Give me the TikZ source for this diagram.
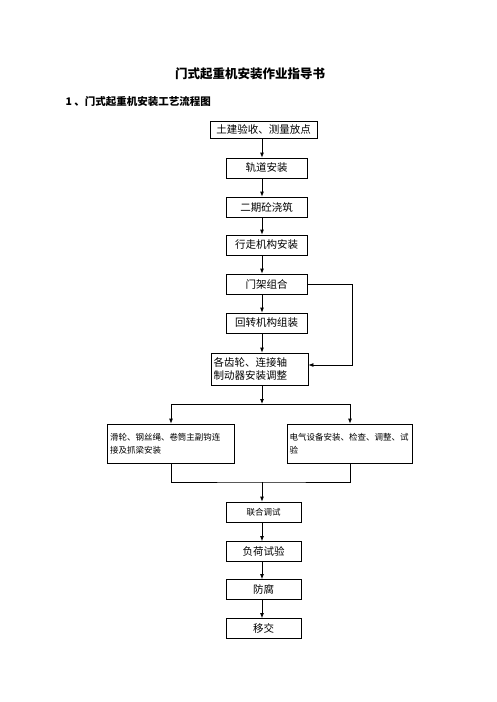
\documentclass[tikz,border=0pt]{standalone}
\usepackage{fontspec}
\setmainfont{Noto Sans CJK SC}
\usetikzlibrary{arrows.meta, positioning, calc}

\begin{document}
\begin{tikzpicture}[x=1pt, y=-1pt,
  box/.style={draw, line width=0.8pt, minimum width=81pt, minimum height=20pt, inner sep=2pt, font=\fontsize{10.5}{13}\selectfont},
  smallbox/.style={box, font=\fontsize{8.5}{13}\selectfont},
  arrow/.style={-{Latex[length=5pt, width=4pt]}, line width=0.8pt},
  line/.style={line width=0.8pt}
]
  \useasboundingbox (0,0) rectangle (496,702);

  \node[font=\fontsize{12.5}{15}\selectfont\bfseries] (title) at (250, 74) {门式起重机安装作业指导书};
  \node[anchor=west, font=\fontsize{10.5}{13}\selectfont\bfseries] (head) at (62, 102) {1 、门式起重机安装工艺流程图};

  \node[box, minimum width=107pt, minimum height=17pt] (b1) at (263.5, 129.5) {土建验收、测量放点};
  \node[box] (b2) at (266.5, 168) {轨道安装};
  \node[box] (b3) at (266.5, 207) {二期砼浇筑};
  \node[box] (b4) at (266.5, 245) {行走机构安装};
  \node[box] (b5) at (266.5, 284) {门架组合};
  \node[box] (b6) at (266.5, 323) {回转机构组装};
  \node[box, minimum width=97pt, minimum height=32pt, text width=92pt, align=left] (b7) at (259.5, 369) {各齿轮、连接轴\\制动器安装调整};

  \coordinate (split) at (262, 404);
  \node[smallbox, minimum width=127pt, minimum height=39pt, text width=122pt, align=left] (left) at (171, 443.5) {滑轮、钢丝绳、卷筒主副钩连\\接及抓梁安装};
  \node[smallbox, minimum width=125pt, minimum height=39pt, text width=121pt, inner sep=1.5pt, align=left] (right) at (350, 443.5) {电气设备安装、检查、调整、试\\验};
  \coordinate (join) at (262, 482);

  \node[smallbox, minimum width=75pt] (t1) at (263.5, 512) {联合调试};
  \node[box, minimum width=75pt] (t2) at (263.5, 551.5) {负荷试验};
  \node[box, minimum width=75pt] (t3) at (263.5, 589.5) {防腐};
  \node[box, minimum width=75pt] (t4) at (263.5, 628.5) {移交};

  \draw[arrow] (b1.south -| 262,0) -- (b2.north -| 262,0);
  \draw[arrow] (b2.south -| 262,0) -- (b3.north -| 262,0);
  \draw[arrow] (b3.south -| 262,0) -- (b4.north -| 262,0);
  \draw[arrow] (b4.south -| 262,0) -- (b5.north -| 262,0);
  \draw[arrow] (b5.south -| 262,0) -- (b6.north -| 262,0);
  \draw[arrow] (b6.south -| 262,0) -- (b7.north -| 262,0);
  \draw[arrow] (b5.east) -- ++(45,0) |- ([yshift=4pt]b7.east);

  \draw[arrow] (b7.south -| 262,0) -- (split);
  \draw[arrow] (split) -| (left.north);
  \draw[arrow] (split) -| (right.north);
  \draw[line] (left.south) |- (join) -| (right.south);
  \draw[arrow] (join) -- (t1.north -| 262,0);

  \draw[arrow] (t1.south -| 262,0) -- (t2.north -| 262,0);
  \draw[arrow] (t2.south -| 262,0) -- (t3.north -| 262,0);
  \draw[arrow] (t3.south -| 262,0) -- (t4.north -| 262,0);
\end{tikzpicture}
\end{document}
